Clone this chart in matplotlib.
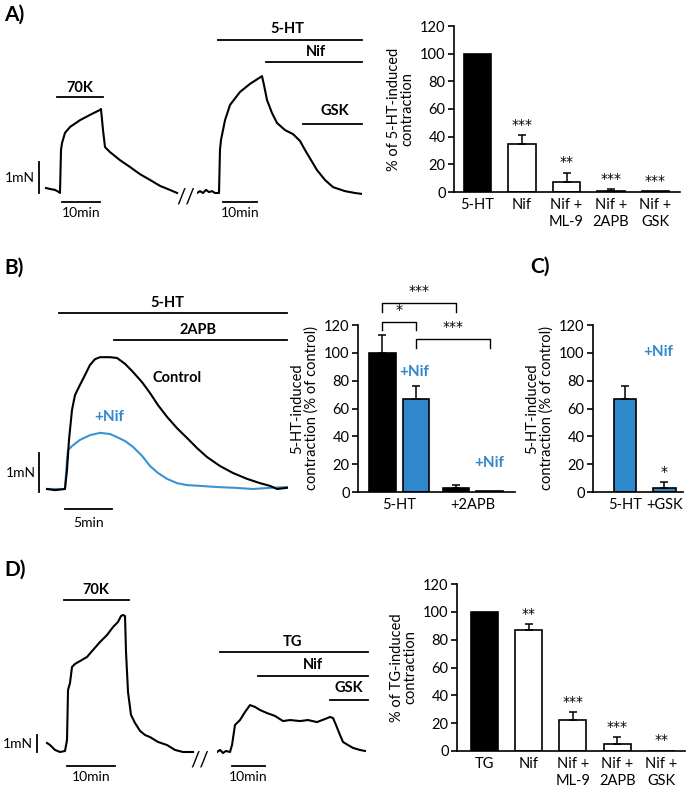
import numpy as np
import matplotlib
matplotlib.use("Agg")
import matplotlib.pyplot as plt

plt.rcParams['font.family'] = ['Lato', 'DejaVu Sans']

W, H = 700, 788
BLUE = "#2f87cc"
TRACE_BLUE = "#3a93d1"

# ---- force traces (time in min, force in mN) ----
a1_t = [0, 1.05, 2.37, 3.42, 3.68, 3.95, 4.21, 5.0, 6.32, 8.95, 11.58, 14.21, 14.47,
        15.0, 15.53, 16.84, 19.47, 22.1, 24.7, 27.4, 30.0, 32.6, 34.5]
a1_f = [0.16, 0.13, 0.10, 0.03, 0, 1.39, 1.61, 1.94, 2.13, 2.35, 2.52, 2.68, 2.71,
        2.03, 1.48, 1.32, 1.06, 0.84, 0.61, 0.42, 0.23, 0.10, 0]

a2_t = [0, 0.88, 1.76, 2.65, 3.53, 4.41, 5.29, 6.47, 6.76, 7.06, 8.24, 9.71, 12.65,
        15.59, 19.12, 19.71, 20.59, 22.06, 23.53, 25.88, 28.24, 30.29, 31.76, 35.29,
        37.65, 40.0, 43.53, 46.47, 48.53]
a2_f = [0, 0.06, 0, 0.1, 0.03, 0.06, 0, 0, 1.39, 1.71, 2.35, 2.84, 3.26, 3.52, 3.77,
        3.48, 3.0, 2.58, 2.26, 2.03, 1.90, 1.68, 1.39, 0.74, 0.42, 0.19, 0.06, 0, -0.03]

b_ctrl_t = [0, 0.85, 1.91, 2.13, 2.34, 2.66, 2.98, 3.51, 4.04, 4.57, 5.11, 5.64, 6.70,
            7.45, 8.30, 9.15, 10.11, 10.96, 11.81, 12.77, 13.83, 14.89, 15.96, 17.02,
            18.40, 19.79, 21.28, 22.66, 23.72, 24.47, 25.53]
b_ctrl_f = [0, -0.03, 0, 0.49, 1.26, 2.03, 2.41, 2.67, 2.92, 3.18, 3.33, 3.38, 3.38,
            3.36, 3.21, 3.0, 2.74, 2.46, 2.15, 1.85, 1.56, 1.31, 1.05, 0.82, 0.59, 0.41,
            0.26, 0.15, 0.08, 0, 0.03]
b_nif_t = [0, 1.91, 2.13, 2.23, 2.66, 3.51, 4.57, 5.64, 6.70, 7.45, 8.30, 9.15, 10.11,
           10.96, 11.81, 12.77, 13.83, 14.89, 16.28, 18.09, 20.0, 21.91, 23.72, 25.53]
b_nif_f = [0, 0, 0.74, 1.0, 1.10, 1.26, 1.38, 1.44, 1.41, 1.33, 1.23, 1.08, 0.85, 0.59,
           0.41, 0.26, 0.15, 0.10, 0.08, 0.05, 0.03, 0, 0.03, 0.05]

d1_t = [0, 0.63, 1.67, 2.71, 3.75, 4.17, 4.38, 4.79, 5.21, 5.83, 6.88, 8.33, 9.58,
        11.04, 12.5, 13.75, 14.79, 15.42, 15.83, 16.25, 16.46, 16.88, 17.5, 18.33,
        19.38, 20.42, 21.46, 23.13, 25.0, 26.67, 28.33, 30.42]
d1_f = [0.53, 0.41, 0.12, 0, 0.06, 0.71, 3.65, 4.06, 5.0, 5.18, 5.35, 5.59, 6.0, 6.47,
        6.88, 7.35, 7.65, 8.0, 8.06, 8.0, 5.88, 3.53, 2.18, 1.71, 1.24, 1.0, 0.88, 0.59,
        0.41, 0.12, 0, 0]

d2_t = [0, 0.91, 1.82, 2.73, 3.94, 4.55, 5.45, 6.97, 8.48, 10.0, 11.52, 13.03, 15.15,
        17.58, 20.0, 22.12, 25.15, 27.58, 30.3, 32.73, 34.24, 35.15, 36.06, 37.27,
        38.18, 39.7, 41.21, 43.33, 44.85]
d2_f = [0, 0.12, -0.06, 0.06, 0, 0.41, 1.59, 1.88, 2.35, 2.76, 2.65, 2.47, 2.29, 2.12,
        1.82, 1.88, 1.82, 1.88, 1.76, 1.94, 2.06, 2.0, 1.59, 1.0, 0.59, 0.41, 0.24,
        0.12, 0.06]

# ---- bar chart values (% contraction) ----
a_labels = ["5-HT", "Nif", "Nif +\nML-9", "Nif +\n2APB", "Nif +\nGSK"]
a_vals = [100, 35, 7, 1, 0.5]
a_errs = [0, 6, 7, 1, 0]
a_stars = ["", "***", "**", "***", "***"]

b_vals = [100, 67, 3, 0.5]
b_errs = [13, 9, 2, 0]
b_groups = ["5-HT", "+2APB"]

c_labels = ["5-HT", "+GSK"]
c_vals = [67, 3]
c_errs = [9, 4]
c_stars = ["", "*"]

d_labels = ["TG", "Nif", "Nif +\nML-9", "Nif +\n2APB", "Nif +\nGSK"]
d_vals = [100, 87, 22, 5, 0.3]
d_errs = [0, 4, 6, 5, 0]
d_stars = ["", "**", "***", "***", "**"]

STAR_FONT = dict(fontsize=10, family="DejaVu Sans")


def px_box(x0, y0, x1, y1):
    return [x0 / W, 1 - y1 / H, (x1 - x0) / W, (y1 - y0) / H]


def trace_axes(fig, x_t0, y_f0, sx, sy, tlim, flim):
    # x_t0/y_f0: pixel position of t=0, f=0; sx/sy: pixels per min / per mN
    x0 = x_t0 + tlim[0] * sx
    x1 = x_t0 + tlim[1] * sx
    ax = fig.add_axes(px_box(x0, y_f0 - flim[1] * sy, x1, y_f0 - flim[0] * sy))
    ax.set_xlim(*tlim)
    ax.set_ylim(*flim)
    ax.axis("off")
    return ax


def drug(ax, t0, t1, level, label, lt, lf):
    ax.plot([t0, t1], [level, level], color="k", lw=1.3, clip_on=False)
    ax.text(lt, lf, label, ha="center", va="center", fontsize=10.5, fontweight="bold")


def time_bar(ax, t0, t1, f, ftxt, label="10min"):
    ax.plot([t0, t1], [f, f], color="k", lw=1.3, clip_on=False)
    ax.text((t0 + t1) / 2, ftxt, label, ha="center", va="center", fontsize=10)


def force_bar(ax, t, f0, f1, tt):
    ax.plot([t, t], [f0, f1], color="k", lw=1.3, clip_on=False)
    ax.text(tt, (f0 + f1) / 2, "1mN", ha="right", va="center", fontsize=10)


def bar_axes(fig, x0, x1, y_top, y_bot, xlim, ylabel):
    ax = fig.add_axes(px_box(x0, y_top, x1, y_bot))
    ax.set_xlim(*xlim)
    ax.set_ylim(0, 120)
    ax.set_yticks(range(0, 121, 20))
    for s in ("top", "right"):
        ax.spines[s].set_visible(False)
    for s in ("left", "bottom"):
        ax.spines[s].set_linewidth(1.2)
    ax.tick_params(axis="y", direction="out", length=4, width=1.2, labelsize=10.5, pad=2)
    ax.tick_params(axis="x", length=0, labelsize=10.5, pad=4)
    ax.set_ylabel(ylabel, fontsize=10.5, linespacing=1.0, labelpad=4)
    return ax


def errs_up(ax, x, vals, errs):
    for xi, v, e in zip(x, vals, errs):
        if e > 0:
            ax.errorbar(xi, v, yerr=[[0], [e]], fmt="none", ecolor="k",
                        elinewidth=1.1, capsize=3, capthick=1.1)


def stars(ax, x, vals, errs, marks):
    for xi, v, e, m in zip(x, vals, errs, marks):
        if m:
            ax.text(xi, v + e + 2.5, m, ha="center", va="bottom", **STAR_FONT)


fig = plt.figure(figsize=(7, 7.88), dpi=100)

for lbl, y in (("A)", 15), ("B)", 268), ("D)", 570)):
    fig.text(4 / W, 1 - y / H, lbl, fontsize=15, fontweight="bold", va="center")
fig.text(530 / W, 1 - 267 / H, "C)", fontsize=15, fontweight="bold", va="center")

# ---------------- A traces ----------------
ax = trace_axes(fig, 46, 193, 3.8, 31, (-4, 36), (-0.9, 3.6))
ax.plot(a1_t, a1_f, color="k", lw=1.5)
drug(ax, 2.9, 15.0, 3.1, "70K", 8.9, 3.39)
force_bar(ax, -1.84, 0, 1.0, -2.9)
time_bar(ax, 4.2, 14.2, -0.29, -0.65)
ax.text(36.8, -0.15, "//", ha="center", va="center", fontsize=15)

ax = trace_axes(fig, 197, 193, 3.4, 31, (0, 48.6), (-0.9, 5.4))
ax.plot(a2_t, a2_f, color="k", lw=1.5)
drug(ax, 6.2, 48.5, 4.94, "5-HT", 26.5, 5.29)
drug(ax, 20.3, 48.5, 4.23, "Nif", 35.0, 4.55)
drug(ax, 31.2, 48.5, 2.23, "GSK", 40.6, 2.65)
time_bar(ax, 7.6, 17.6, -0.29, -0.65)

# ---------------- A bars ----------------
ax = bar_axes(fig, 454, 680, 26, 192, (-0.53, 4.55), "% of 5-HT-induced\ncontraction")
xa = np.arange(len(a_vals))
ax.bar(xa, a_vals, width=0.61, color=["k", "w", "w", "w", "w"], edgecolor="k", lw=1.2)
errs_up(ax, xa, a_vals, a_errs)
stars(ax, xa, a_vals, a_errs, a_stars)
ax.set_xticks(xa)
ax.set_xticklabels(a_labels, linespacing=1.3, va="top")

# ---------------- B trace ----------------
ax = trace_axes(fig, 47, 489, 9.4, 39, (-1, 25.6), (-0.95, 4.9))
ax.plot(b_ctrl_t, b_ctrl_f, color="k", lw=1.5, zorder=3)
ax.plot(b_nif_t, b_nif_f, color=TRACE_BLUE, lw=1.5, zorder=2)
drug(ax, 1.28, 25.53, 4.51, "5-HT", 12.77, 4.77)
drug(ax, 7.13, 25.53, 3.82, "2APB", 16.06, 4.08)
ax.text(13.83, 2.85, "Control", ha="center", va="center", fontsize=10.5, fontweight="bold")
ax.text(6.6, 1.85, "+Nif", ha="center", va="center", fontsize=11, fontweight="bold",
        color=BLUE)
force_bar(ax, -0.85, -0.08, 0.92, -1.2)
time_bar(ax, 1.91, 6.91, -0.51, -0.87, "5min")

# ---------------- B bars ----------------
ax = bar_axes(fig, 358, 515, 325, 492, (-0.73, 3.96),
              "5-HT-induced\ncontraction (% of control)")
xb = [0, 1, 2.2, 3.2]
ax.bar(xb, b_vals, width=0.8, color=["k", BLUE, "k", BLUE], edgecolor="k", lw=1.2)
errs_up(ax, xb, b_vals, b_errs)
ax.set_xticks([0.5, 2.7])
ax.set_xticklabels(b_groups)
for x0, x1, top, leg, mark, ty in ((0, 1, 122, 116.5, "*", 125.5),
                                   (0, 2.2, 135.8, 129.3, "***", 139.5),
                                   (1, 3.2, 110, 103.4, "***", 113.5)):
    ax.plot([x0, x0, x1, x1], [leg, top, top, leg], color="k", lw=1, clip_on=False)
    ax.text((x0 + x1) / 2, ty, mark, ha="center", va="bottom", **STAR_FONT)
ax.text(0.94, 86, "+Nif", ha="center", va="center", fontsize=11, fontweight="bold",
        color=BLUE)
ax.text(3.2, 20.8, "+Nif", ha="center", va="center", fontsize=11, fontweight="bold",
        color=BLUE)

# ---------------- C bars ----------------
ax = bar_axes(fig, 593, 683, 325, 492, (-0.81, 1.47),
              "5-HT-induced\ncontraction (% of control)")
xc = [0, 1]
ax.bar(xc, c_vals, width=0.58, color=BLUE, edgecolor="k", lw=1.2)
errs_up(ax, xc, c_vals, c_errs)
stars(ax, xc, c_vals, c_errs, c_stars)
ax.set_xticks(xc)
ax.set_xticklabels(c_labels)
ax.text(0.84, 100.6, "+Nif", ha="center", va="center", fontsize=11, fontweight="bold",
        color=BLUE)

# ---------------- D traces ----------------
ax = trace_axes(fig, 47, 752, 4.8, 17, (-4, 33), (-1.9, 9.9))
ax.plot(d1_t, d1_f, color="k", lw=1.5)
drug(ax, 3.54, 17.1, 8.94, "70K", 10.2, 9.53)
force_bar(ax, -2.08, 0, 1.0, -2.9)
time_bar(ax, 4.17, 14.17, -0.82, -1.47)
ax.text(31.9, -0.5, "//", ha="center", va="center", fontsize=15)

ax = trace_axes(fig, 217, 752, 3.3, 17, (0, 46), (-1.9, 7.0))
ax.plot(d2_t, d2_f, color="k", lw=1.5)
drug(ax, 0.91, 45.8, 5.88, "TG", 23.0, 6.47)
drug(ax, 12.4, 45.8, 4.47, "Nif", 29.1, 5.12)
drug(ax, 34.2, 45.8, 3.06, "GSK", 40.0, 3.76)
time_bar(ax, 4.55, 14.55, -0.82, -1.47)

# ---------------- D bars ----------------
ax = bar_axes(fig, 457, 685, 584, 751, (-0.62, 4.53), "% of TG-induced\ncontraction")
xd = np.arange(len(d_vals))
ax.bar(xd, d_vals, width=0.61, color=["k", "w", "w", "w", "w"], edgecolor="k", lw=1.2)
errs_up(ax, xd, d_vals, d_errs)
stars(ax, xd, d_vals, d_errs, d_stars)
ax.set_xticks(xd)
ax.set_xticklabels(d_labels, linespacing=1.3, va="top")

fig.savefig("out.png", dpi=100)
